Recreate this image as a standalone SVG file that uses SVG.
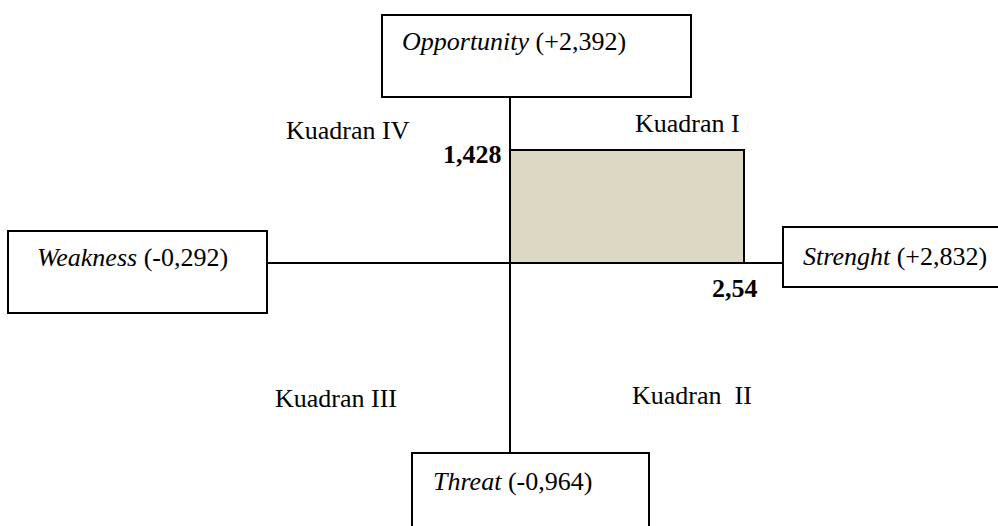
<svg xmlns="http://www.w3.org/2000/svg" width="998" height="526" viewBox="0 0 998 526">
<style>
.box{fill:#fff;stroke:#000;stroke-width:2}
.ax{stroke:#000;stroke-width:2;fill:none}
.t{font-family:"Liberation Serif","Times New Roman",serif;font-size:26px;fill:#000}
.i{font-style:italic}
.b{font-weight:bold}
</style>
<rect width="998" height="526" fill="#fff"/>
<g id="connectors">
<line class="ax" x1="510" y1="97" x2="510" y2="453"/>
<line class="ax" x1="267" y1="263" x2="783" y2="263"/>
</g>
<g id="area">
<rect x="510" y="150" width="234" height="113" fill="#DDD8C4" stroke="#000" stroke-width="2"/>
</g>
<g id="opportunity">
<rect class="box" x="382" y="15" width="309" height="82"/>
<text class="t" x="402" y="50"><tspan class="i">Opportunity</tspan> (+2,392)</text>
</g>
<g id="weakness">
<rect class="box" x="8" y="231" width="259" height="82"/>
<text class="t" x="37" y="266"><tspan class="i">Weakness</tspan> (-0,292)</text>
</g>
<g id="strenght">
<rect class="box" x="783" y="227" width="230" height="60"/>
<text class="t" x="803" y="265"><tspan class="i">Strenght</tspan> (+2,832)</text>
</g>
<g id="threat">
<rect class="box" x="412" y="453" width="237" height="90"/>
<text class="t" x="433" y="490"><tspan class="i">Threat</tspan> (-0,964)</text>
</g>
<g id="labels">
<text class="t" x="286" y="139">Kuadran IV</text>
<text class="t" x="635" y="132">Kuadran I</text>
<text class="t" x="275" y="407">Kuadran III</text>
<text class="t" x="632" y="404" xml:space="preserve">Kuadran  II</text>
<text class="t b" x="443" y="163">1,428</text>
<text class="t b" x="712" y="297">2,54</text>
</g>
</svg>
